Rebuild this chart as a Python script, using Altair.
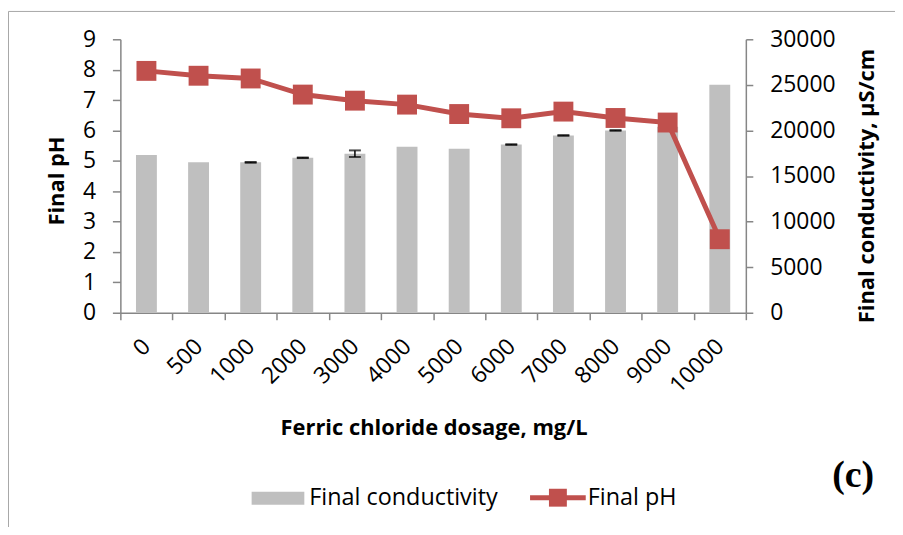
import altair as alt
import pandas as pd

# ---- data ----
dosage = ["0", "500", "1000", "2000", "3000", "4000", "5000", "6000",
          "7000", "8000", "9000", "10000"]
conductivity = [17300, 16500, 16500, 17000, 17450, 18200, 18000, 18450,
                19450, 20000, 20400, 25000]
conductivity_err = [0, 0, 40, 30, 360, 0, 0, 30, 30, 30, 0, 0]
final_ph = [7.96, 7.80, 7.71, 7.18, 6.98, 6.85, 6.54, 6.40, 6.62, 6.41, 6.26, 2.42]
ph_ticks = list(range(0, 10))
cond_ticks = [0, 5000, 10000, 15000, 20000, 25000, 30000]

RED = "#C0504D"
GRAY = "#BFBFBF"
AXIS = "#868686"
FONT = "Open Sans"
W, H = 629, 275

df = pd.DataFrame({"dosage": dosage, "cond": conductivity,
                   "err": conductivity_err, "ph": final_ph})
df["lo"] = df["cond"] - df["err"]
df["hi"] = df["cond"] + df["err"]
err_df = df[df["err"] > 0]

x_enc = alt.X(
    "dosage:N", sort=dosage,
    scale=alt.Scale(domain=dosage, paddingInner=0, paddingOuter=0),
    axis=alt.Axis(
        title="Ferric chloride dosage, mg/L", tickBand="extent",
        labelAngle=315, labelAlign="right", labelBaseline="middle",
        labelPadding=23, labelOverlap=False, tickSize=7,
        titleX=315, titleY=115, titleAlign="center", titleBaseline="middle",
    ),
)

def cond_scale():
    return alt.Scale(domain=[0, 30000], nice=False, zero=True)

def ph_scale():
    return alt.Scale(domain=[0, 9], nice=False, zero=True)

bars = alt.Chart(df).mark_bar(color=GRAY, size=21).encode(
    x=x_enc,
    y=alt.Y("cond:Q", scale=cond_scale(), axis=alt.Axis(
        orient="right", values=cond_ticks, format="d",
        title="Final conductivity, µS/cm",
        labelPadding=17, tickSize=7, labelOverlap=False,
        titleAngle=270, titleX=121, titleY=147,
        titleAlign="center", titleBaseline="middle")),
)
err_rule = alt.Chart(err_df).mark_rule(color="black", strokeWidth=1.5).encode(
    x=x_enc,
    y=alt.Y("lo:Q", scale=cond_scale(), axis=None),
    y2="hi:Q",
)
err_hi = alt.Chart(err_df).mark_tick(color="black", thickness=2, size=12).encode(
    x=x_enc, y=alt.Y("hi:Q", scale=cond_scale(), axis=None))
err_lo = alt.Chart(err_df).mark_tick(color="black", thickness=2, size=12).encode(
    x=x_enc, y=alt.Y("lo:Q", scale=cond_scale(), axis=None))

ph_line = alt.Chart(df).mark_line(color=RED, strokeWidth=5).encode(
    x=x_enc,
    y=alt.Y("ph:Q", scale=ph_scale(), axis=alt.Axis(
        orient="left", values=ph_ticks, title="Final pH",
        labelPadding=17, tickSize=8, labelOverlap=False,
        titleAngle=270, titleX=-64, titleY=142,
        titleAlign="center", titleBaseline="middle")),
)
ph_pts = alt.Chart(df).mark_point(shape="square", size=400, filled=True,
                                   color=RED, opacity=1).encode(
    x=x_enc, y=alt.Y("ph:Q", scale=ph_scale(), axis=None))

# ---- legend, panel label and frame (decoration) ----
one = pd.DataFrame({"k": [0]})
leg_sw = alt.Chart(one).mark_rect(color=GRAY).encode(
    x=alt.value(132), x2=alt.value(185), y=alt.value(455), y2=alt.value(468))
leg_t1 = alt.Chart(one).mark_text(align="left", baseline="middle", font=FONT,
                                  fontSize=23.5, color="black").encode(
    x=alt.value(190), y=alt.value(461), text=alt.value("Final conductivity"))
leg_ln = alt.Chart(one).mark_rule(color=RED, strokeWidth=5).encode(
    x=alt.value(412), x2=alt.value(468), y=alt.value(461))
leg_pt = alt.Chart(one).mark_point(shape="square", size=324, filled=True,
                                   color=RED, opacity=1).encode(
    x=alt.value(440), y=alt.value(461))
leg_t2 = alt.Chart(one).mark_text(align="left", baseline="middle", font=FONT,
                                  fontSize=23.5, color="black").encode(
    x=alt.value(470), y=alt.value(461), text=alt.value("Final pH"))
panel = alt.Chart(one).mark_text(align="center", baseline="alphabetic",
                                 font="Liberation Serif", fontSize=38,
                                 fontWeight="bold", color="black").encode(
    x=alt.value(737), y=alt.value(450), text=alt.value("(c)"))
frame_l = alt.Chart(one).mark_rule(color="#A6A6A6", strokeWidth=1).encode(
    x=alt.value(-112.5), y=alt.value(-28), y2=alt.value(500))
frame_t = alt.Chart(one).mark_rule(color="#A6A6A6", strokeWidth=1).encode(
    x=alt.value(-112.5), x2=alt.value(800), y=alt.value(-28))

chart = alt.layer(
    bars, err_rule, err_hi, err_lo, ph_line, ph_pts,
    leg_sw, leg_t1, leg_ln, leg_pt, leg_t2, panel, frame_l, frame_t,
).resolve_scale(y="independent").resolve_axis(y="independent").properties(
    width=W, height=H,
    autosize=alt.AutoSizeParams(type="none"),
    padding={"left": 113, "top": 30, "right": 150, "bottom": 214},
).configure_view(stroke=None).configure_axis(
    labelFont=FONT, labelFontSize=23, labelColor="black",
    titleFont=FONT, titleFontSize=22, titleFontWeight="bold", titleColor="black",
    domainColor=AXIS, domainWidth=1.5, tickColor=AXIS, tickWidth=1.5, grid=False,
)

chart.save("out.html", embed_options={"renderer": "svg", "actions": False})
